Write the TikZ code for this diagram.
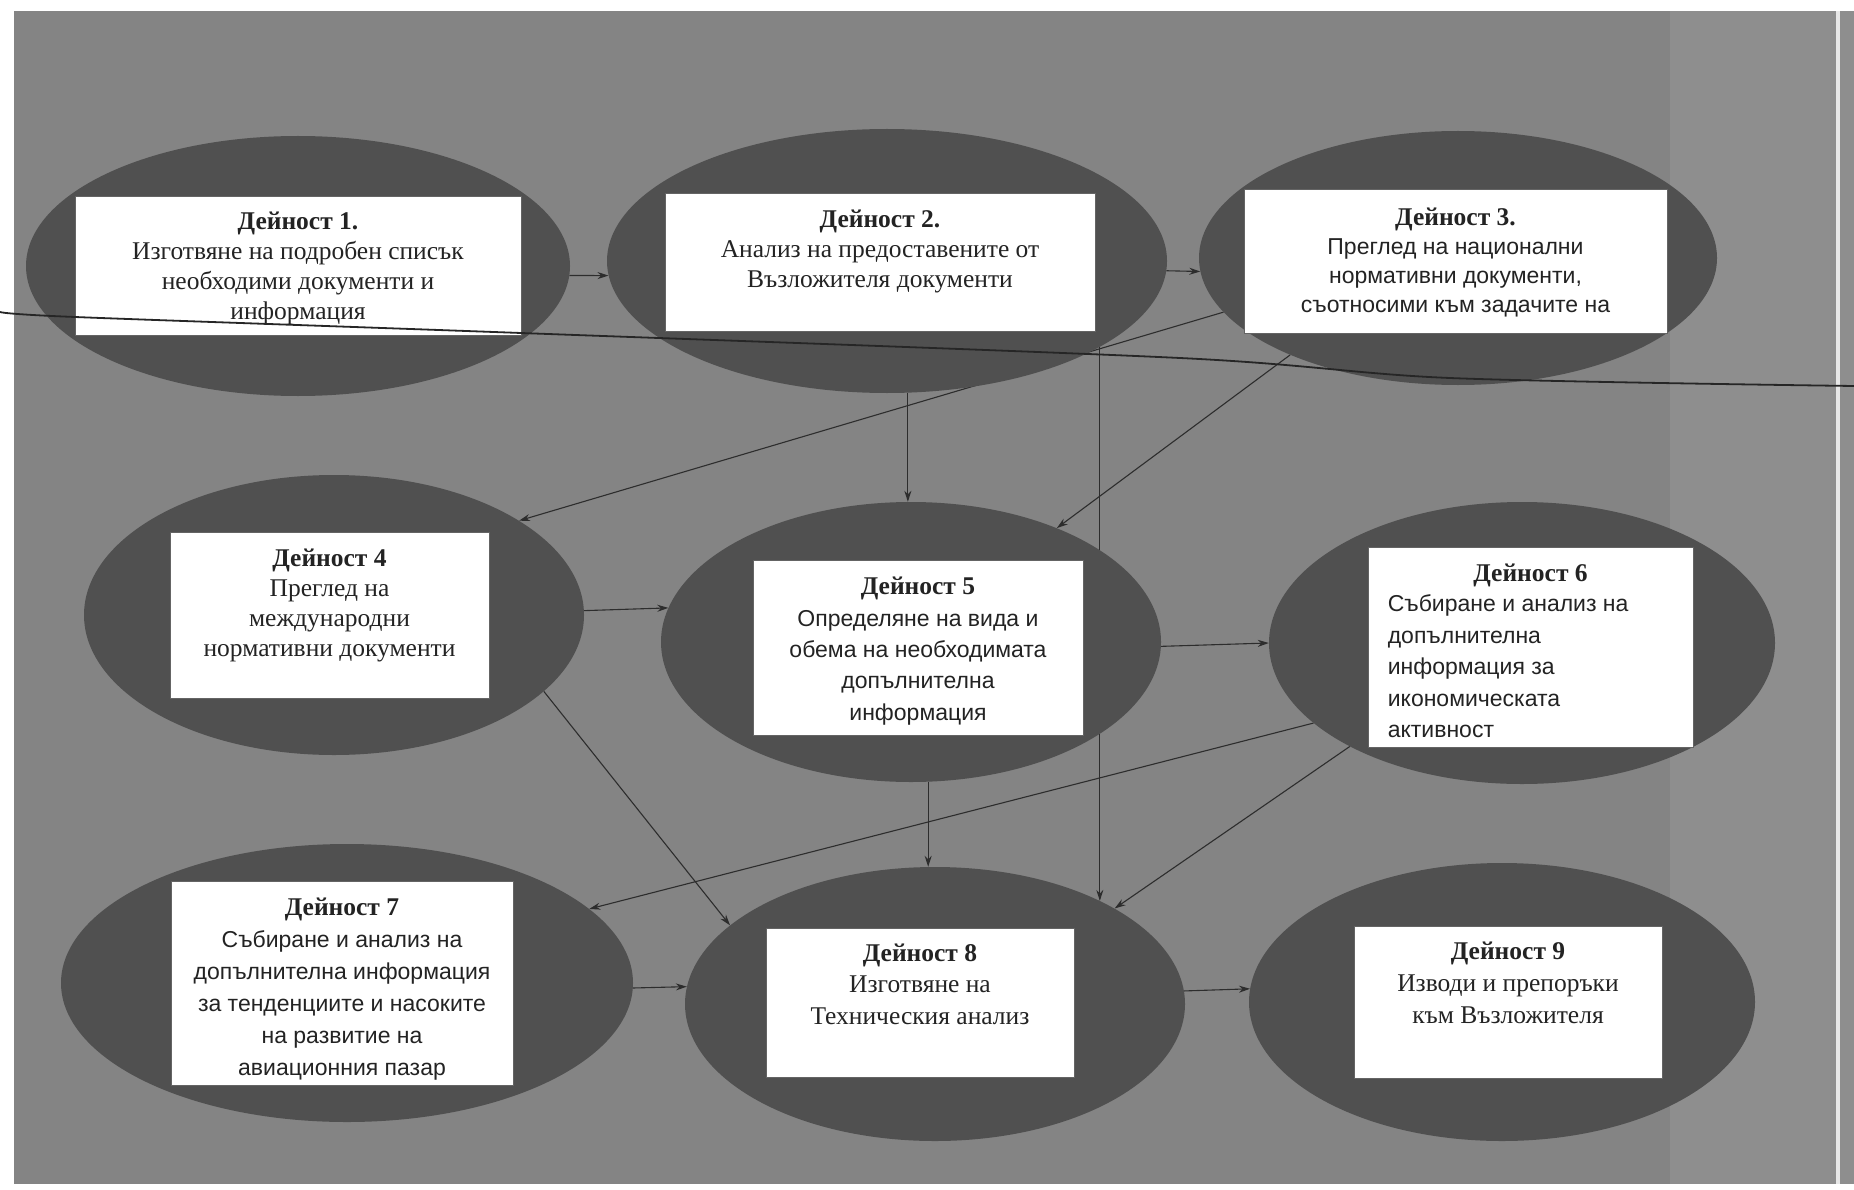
\documentclass[tikz,border=0pt]{standalone}
\usepackage{fontspec}
\setmainfont{Liberation Serif}
\newfontfamily\lsans{Liberation Sans}
\usetikzlibrary{shapes.geometric,arrows.meta}
\pgfdeclarelayer{bg}
\pgfsetlayers{bg,main}
\definecolor{bgc}{RGB}{132,132,132}
\definecolor{bandc}{RGB}{142,142,142}
\definecolor{ellc}{RGB}{80,80,80}
\definecolor{linec}{RGB}{45,45,45}
\definecolor{txtc}{RGB}{35,35,35}
\definecolor{boxline}{RGB}{100,100,100}
\tikzset{
  ell/.style={ellipse, fill=ellc, draw=none, inner sep=0pt},
  wbox/.style={rectangle, fill=white, draw=boxline, line width=0.8pt, inner sep=0pt},
  txt/.style={anchor=north, inner sep=0pt, text=txtc, align=center, font=\fontsize{25.5}{30}\selectfont},
  conn/.style={draw=linec, line width=1.1pt, -{Stealth[length=11pt,width=7pt]}},
  scanline/.style={draw=black!85, line width=1.8pt},
}
\begin{document}
\begin{tikzpicture}[x=1pt,y=-1pt]
\useasboundingbox (0,0) rectangle (1854,1190);
% ellipses
\node[ell, minimum width=544pt, minimum height=260pt] (e1) at (298,266) {};
\node[ell, minimum width=560pt, minimum height=264pt] (e2) at (887,261) {};
\node[ell, minimum width=518pt, minimum height=254pt] (e3) at (1458,258) {};
\node[ell, minimum width=500pt, minimum height=280pt] (e4) at (334,615) {};
\node[ell, minimum width=500pt, minimum height=280pt] (e5) at (911,642) {};
\node[ell, minimum width=506pt, minimum height=282pt] (e6) at (1522,643) {};
\node[ell, minimum width=572pt, minimum height=278pt] (e7) at (347,983) {};
\node[ell, minimum width=500pt, minimum height=274pt] (e8) at (935,1004) {};
\node[ell, minimum width=506pt, minimum height=278pt] (e9) at (1502,1002) {};
% boxes
\node[wbox, minimum width=446pt, minimum height=139pt] (b1) at (298,265.5) {};
\node[wbox, minimum width=430pt, minimum height=138pt] (b2) at (880,262) {};
\node[wbox, minimum width=423pt, minimum height=144pt] (b3) at (1455.5,261) {};
\node[wbox, minimum width=319pt, minimum height=166pt] (b4) at (329.5,615) {};
\node[wbox, minimum width=330pt, minimum height=175pt] (b5) at (918,647.5) {};
\node[wbox, minimum width=325pt, minimum height=200pt] (b6) at (1530.5,647) {};
\node[wbox, minimum width=342pt, minimum height=204pt] (b7) at (342,983) {};
\node[wbox, minimum width=308pt, minimum height=149pt] (b8) at (920,1002.5) {};
\node[wbox, minimum width=308pt, minimum height=152pt] (b9) at (1508,1002) {};
% texts
\node[txt] (t1) at ([yshift=-16.5pt]b1.north) {\textbf{Дейност 1.}\\Изготвяне на подробен списък\\необходими документи и\\информация};
\node[txt] (t2) at ([yshift=-17pt]b2.north) {\textbf{Дейност 2.}\\Анализ на предоставените от\\Възложителя документи};
\node[txt, font=\fontsize{25.5}{29}\selectfont] (t3) at ([yshift=-19pt]b3.north) {\textbf{Дейност 3.}\\{\lsans\fontsize{23}{29}\selectfont Преглед на национални}\\{\lsans\fontsize{23}{29}\selectfont нормативни документи,}\\{\lsans\fontsize{23}{29}\selectfont съотносими към задачите на}};
\node[txt] (t4) at ([yshift=-17pt]b4.north) {\textbf{Дейност 4}\\Преглед на\\международни\\нормативни документи};
\node[txt, font=\fontsize{25.5}{31.3}\selectfont] (t5) at ([yshift=-17.5pt]b5.north) {\textbf{Дейност 5}\\{\lsans\fontsize{23}{31.3}\selectfont Определяне на вида и}\\{\lsans\fontsize{23}{31.3}\selectfont обема на необходимата}\\{\lsans\fontsize{23}{31.3}\selectfont допълнителна}\\{\lsans\fontsize{23}{31.3}\selectfont информация}};
\node[txt] (t6) at ([yshift=-17.5pt]b6.north) {\textbf{Дейност 6}};
\node[anchor=north west, inner sep=0pt, text=txtc, align=left, font=\lsans\fontsize{23}{31.5}\selectfont] (t6b) at ([xshift=20pt,yshift=-48pt]b6.north west) {Събиране и анализ на\\допълнителна\\информация за\\икономическата\\активност};
\node[txt, font=\fontsize{25.5}{32}\selectfont] (t7) at ([yshift=-17.5pt]b7.north) {\textbf{Дейност 7}\\{\lsans\fontsize{23}{32}\selectfont Събиране и анализ на}\\{\lsans\fontsize{23}{32}\selectfont допълнителна информация}\\{\lsans\fontsize{23}{32}\selectfont за тенденциите и насоките}\\{\lsans\fontsize{23}{32}\selectfont на развитие на}\\{\lsans\fontsize{23}{32}\selectfont авиационния пазар}};
\node[txt, font=\fontsize{25.5}{31.5}\selectfont] (t8) at ([yshift=-16pt]b8.north) {\textbf{Дейност 8}\\Изготвяне на\\Техническия анализ};
\node[txt, font=\fontsize{25.5}{32}\selectfont] (t9) at ([yshift=-16pt]b9.north) {\textbf{Дейност 9}\\Изводи и препоръки\\към Възложителя};
% background and connectors
\begin{pgfonlayer}{bg}
\fill[white] (0,0) rectangle (1854,1190);
\fill[bgc] (14,11) rectangle (1854,1184);
\fill[bandc] (1670,11) rectangle (1854,1184);
\fill[white!80!bgc] (1836,11) rectangle (1840,1184);
\draw[conn] (e1.-2.1) -- (e2.183.1);
\draw[conn] (e2.-2.5) -- (e3.183.3);
\draw[conn] (e3.193.2) -- (e4.27.8);
\draw[conn] (e3.210) -- (e5.38);
\draw[conn] (e2.-81.8) -- (e2.-81.8 |- e5.north);
\draw[conn] (e2.-22.4) -- (e2.-22.4 |- e8.32.5);
\draw[conn] (e4.1) -- (e5.172.8);
\draw[conn] (e5.-1.1) -- (e6.180.9);
\draw[conn] (e4.-20) -- (e8.159);
\draw[conn] (e5.-83) -- (e5.-83 |- e8.north);
\draw[conn] (e6.201.1) -- (e7.17.3);
\draw[conn] (e6.211) -- (e8.28.4);
\draw[conn] (e7.-1) -- (e8.176.3);
\draw[conn] (e8.3.2) -- (e9.177.3);
\end{pgfonlayer}
% stray scan line across the sheet
\draw[scanline] plot[smooth] coordinates {(0,312) (75,317) (521,333) (1180,358) (1450,378) (1854,386)};
\end{tikzpicture}
\end{document}
